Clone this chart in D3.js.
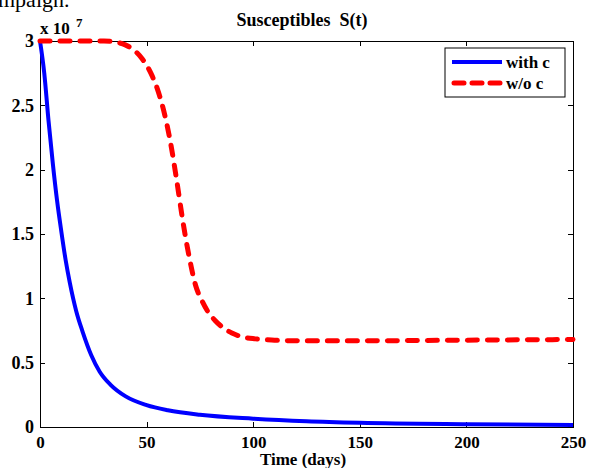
<!DOCTYPE html>
<meta charset="utf-8">
<script src="https://d3js.org/d3.v7.min.js"></script>
<style>
  body { margin: 0; background: #fff; }
  svg text { font-family: "Liberation Serif", "Times New Roman", serif !important; font-weight: bold; fill: #000; }
  .axis path, .axis line { stroke: #000; stroke-width: 1px; shape-rendering: crispEdges; }
</style>
<div id="chart"></div>
<script>
// data (values in units of 1e7)
var tWith = [0, 2, 4, 6, 8, 10, 12, 14, 17, 20, 24, 28, 33, 40, 50, 60, 75, 100, 125, 150, 200, 250];
var sWith = [3.0, 2.75, 2.38, 2.05, 1.76, 1.52, 1.3, 1.12, 0.9, 0.74, 0.56, 0.43, 0.33, 0.24, 0.17, 0.13, 0.095, 0.065, 0.045, 0.033, 0.022, 0.016];
var tWo = [0, 20, 30, 36, 40, 44, 48, 52, 55, 58, 61, 64, 67, 70, 73, 76, 79, 82, 86, 90, 95, 101, 110, 122, 150, 200, 250];
var sWo = [3.0, 3.0, 3.0, 2.99, 2.97, 2.93, 2.86, 2.75, 2.63, 2.46, 2.23, 1.93, 1.6, 1.32, 1.1, 0.98, 0.89, 0.83, 0.77, 0.73, 0.70, 0.685, 0.675, 0.67, 0.67, 0.675, 0.68];
var xTicks = [0, 50, 100, 150, 200, 250];
var yTicks = [0, 0.5, 1, 1.5, 2, 2.5, 3];

var W = 589, H = 468;
var margin = {top: 41, left: 40};
var width = 573 - margin.left, height = 427 - margin.top;

var svg = d3.select("#chart").append("svg")
  .attr("width", W).attr("height", H);

// bit of caption text from the page above, cut off at the top
svg.append("text").attr("x", -2).attr("y", 7).style("font-weight", "normal")
  .style("font-size", "22px").text("mpaign.");

var g = svg.append("g").attr("transform", "translate(" + margin.left + "," + margin.top + ")");

var x = d3.scaleLinear().domain([0, 250]).range([0, width]);
var y = d3.scaleLinear().domain([0, 3]).range([height, 0]);
var fmt = d3.format("~g");

// axes with inward ticks, MATLAB-style box
g.append("g").attr("class", "axis").attr("transform", "translate(0," + height + ")")
  .call(d3.axisBottom(x).tickValues(xTicks).tickFormat(fmt).tickSize(-5).tickPadding(9).tickSizeOuter(0))
  .selectAll("text").style("font-size", "17px");
g.append("g").attr("class", "axis")
  .call(d3.axisTop(x).tickValues(xTicks).tickSize(-5).tickFormat("").tickSizeOuter(0));
g.append("g").attr("class", "axis")
  .call(d3.axisLeft(y).tickValues(yTicks).tickFormat(fmt).tickSize(-5).tickPadding(6).tickSizeOuter(0))
  .selectAll("text").style("font-size", "18px");
g.append("g").attr("class", "axis").attr("transform", "translate(" + width + ",0)")
  .call(d3.axisRight(y).tickValues(yTicks).tickSize(-5).tickFormat("").tickSizeOuter(0));

var line = d3.line().x(function(d) { return x(d[0]); }).y(function(d) { return y(d[1]); })
  .curve(d3.curveMonotoneX);

g.append("path").datum(d3.zip(tWith, sWith))
  .attr("d", line).attr("fill", "none").attr("stroke", "#0000ff").attr("stroke-width", 4);
g.append("path").datum(d3.zip(tWo, sWo))
  .attr("d", line).attr("fill", "none").attr("stroke", "#ff0000").attr("stroke-width", 5)
  .attr("stroke-dasharray", "10,10").attr("stroke-linecap", "round");

// title & labels
svg.append("text").attr("x", 302).attr("y", 26).attr("text-anchor", "middle")
  .style("font-size", "18px").style("white-space", "pre").text("Susceptibles  S(t)");
svg.append("text").attr("x", 40).attr("y", 34).style("font-size", "17px").text("x 10");
svg.append("text").attr("x", 76).attr("y", 27).style("font-size", "13px").text("7");
svg.append("text").attr("x", 303).attr("y", 465).attr("text-anchor", "middle")
  .style("font-size", "17px").text("Time (days)");

// legend
var lg = svg.append("g").attr("transform", "translate(445,48)");
lg.append("rect").attr("width", 120).attr("height", 49)
  .attr("fill", "#fff").attr("stroke", "#000").attr("stroke-width", 1);
lg.append("line").attr("x1", 7).attr("x2", 57).attr("y1", 14).attr("y2", 14)
  .attr("stroke", "#0000ff").attr("stroke-width", 4);
lg.append("line").attr("x1", 9).attr("x2", 57).attr("y1", 35).attr("y2", 35)
  .attr("stroke", "#ff0000").attr("stroke-width", 5)
  .attr("stroke-dasharray", "10,8").attr("stroke-linecap", "round");
lg.append("text").attr("x", 61).attr("y", 20).style("font-size", "17px").text("with c");
lg.append("text").attr("x", 61).attr("y", 41).style("font-size", "17px").text("w/o c");
</script>
